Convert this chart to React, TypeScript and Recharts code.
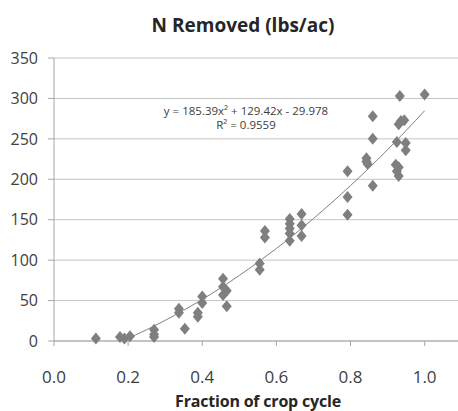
import React from 'react';
import { ComposedChart, Scatter, Line, XAxis, YAxis, CartesianGrid } from 'recharts';

// Fraction of crop cycle (x) and N removed in lbs/ac (y)
const fraction = [
  0.113, 0.178, 0.19, 0.205, 0.27, 0.27, 0.27, 0.353, 0.337, 0.337,
  0.388, 0.388, 0.4, 0.4, 0.456, 0.456, 0.466, 0.456, 0.466, 0.555,
  0.555, 0.569, 0.569, 0.636, 0.636, 0.636, 0.636, 0.636, 0.668, 0.668,
  0.668, 0.792, 0.792, 0.792, 0.843, 0.843, 0.846, 0.86, 0.86, 0.86,
  0.933, 0.93, 0.936, 0.945, 0.925, 0.949, 0.949, 0.922, 0.93, 0.925,
  0.93, 1.0,
];
const nRemoved = [
  3, 5, 3, 6, 14, 8, 5, 15, 40, 35,
  35, 30, 55, 47, 77, 67, 62, 57, 43, 96,
  88, 136, 128, 151, 145, 139, 133, 124, 157, 143,
  130, 210, 178, 156, 226, 222, 219, 278, 250, 192,
  303, 268, 272, 273, 246, 245, 236, 218, 215, 210,
  204, 305,
];

const xTicks = [0, 0.2, 0.4, 0.6, 0.8, 1.0];
const yTicks = [0, 50, 100, 150, 200, 250, 300, 350];

// polynomial trendline coefficients as printed on the chart
const trendA = 185.39;
const trendB = 129.42;
const trendC = -29.978;
const trendX = [0.19, 0.25, 0.3, 0.35, 0.4, 0.45, 0.5, 0.55, 0.6, 0.65, 0.7, 0.75, 0.8, 0.85, 0.9, 0.95, 1.0];

const points = fraction.map((x, i) => ({ x, y: nRemoved[i] }));
const trend = trendX.map((x) => ({ x, y: trendA * x * x + trendB * x + trendC }));

const font = '"Open Sans", "Liberation Sans", sans-serif';

const Diamond = (props: any) => {
  const { cx, cy } = props;
  if (cx == null || cy == null) return null;
  return (
    <polygon
      points={`${cx},${cy - 6} ${cx + 5},${cy} ${cx},${cy + 6} ${cx - 5},${cy}`}
      fill="#7f7f7f"
    />
  );
};

export default function App() {
  return (
    <div style={{ position: 'absolute', left: 0, top: 0, width: 458, height: 411, background: '#fff', fontFamily: font }}>
      <div
        style={{
          position: 'absolute', left: 0, width: 486, top: 12, textAlign: 'center',
          fontSize: 19, fontWeight: 700, color: '#262626',
        }}
      >
        N Removed (lbs/ac)
      </div>
      <ComposedChart
        width={458}
        height={411}
        margin={{ top: 58, right: 0, bottom: 0, left: 0 }}
      >
        <CartesianGrid vertical={false} stroke="#c4c4c4" />
        <XAxis
          type="number"
          dataKey="x"
          domain={[0, 1.09]}
          ticks={xTicks}
          tickFormatter={(v: number) => v.toFixed(1)}
          height={70}
          stroke="#a6a6a6"
          tickSize={5}
          tick={{ fill: '#404040', fontSize: 17, fontFamily: font }}
          tickMargin={25}
          allowDataOverflow
        />
        <YAxis
          type="number"
          dataKey="y"
          domain={[0, 350]}
          ticks={yTicks}
          width={54}
          stroke="#a6a6a6"
          tickSize={6}
          tickMargin={10}
          tick={{ fill: '#404040', fontSize: 16, fontFamily: font }}
        />
        <Scatter data={points} shape={<Diamond />} isAnimationActive={false} />
        <Line
          data={trend}
          dataKey="y"
          type="monotone"
          stroke="#808080"
          strokeWidth={1}
          dot={false}
          isAnimationActive={false}
        />
      </ComposedChart>
      <div
        style={{
          position: 'absolute', left: 158, width: 200, top: 390, textAlign: 'center',
          fontSize: 16, fontWeight: 700, color: '#262626', letterSpacing: -0.2,
        }}
      >
        Fraction of crop cycle
      </div>
      <div
        style={{
          position: 'absolute', left: 146, width: 200, top: 104, textAlign: 'center',
          fontSize: 11.5, lineHeight: '14px', color: '#404040',
        }}
      >
        <div>y = 185.39x² + 129.42x - 29.978</div>
        <div>R² = 0.9559</div>
      </div>
    </div>
  );
}
